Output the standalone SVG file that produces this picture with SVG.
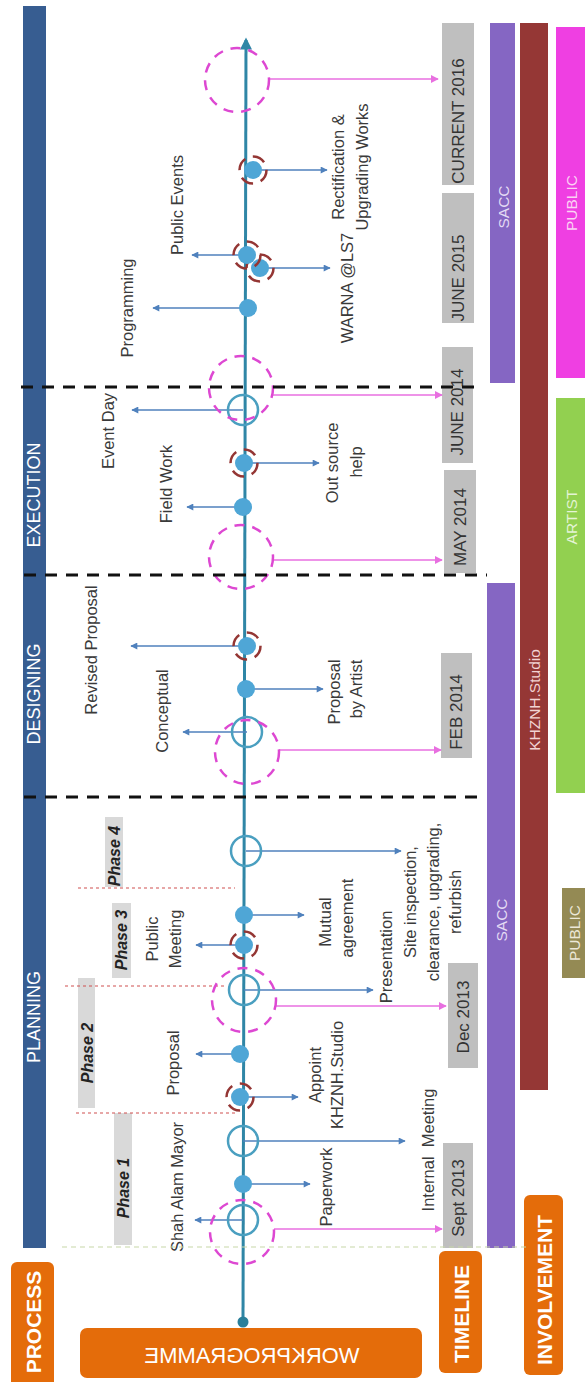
<svg xmlns="http://www.w3.org/2000/svg" width="585" height="1382" viewBox="0 0 585 1382">
<defs>
<style>
.lbl{font-family:"Liberation Sans",Arial,sans-serif;font-size:16.5px;fill:#3a3a3a;text-anchor:middle;dominant-baseline:central}
.date{font-family:"Liberation Sans",Arial,sans-serif;font-size:17px;fill:#333;text-anchor:middle;dominant-baseline:central}
.hdr{font-family:"Liberation Sans",Arial,sans-serif;font-size:21px;font-weight:bold;fill:#fff;text-anchor:middle;dominant-baseline:central}
.proc{font-family:"Liberation Sans",Arial,sans-serif;font-size:18px;fill:#fff;text-anchor:middle;dominant-baseline:central}
.inv{font-family:"Liberation Sans",Arial,sans-serif;font-size:15.5px;text-anchor:middle;dominant-baseline:central}
.phase{font-family:"Liberation Sans",Arial,sans-serif;font-size:16px;font-weight:bold;font-style:italic;fill:#222;text-anchor:middle;dominant-baseline:central}
.dot{fill:#4fa6d6}
.ring{fill:none;stroke:#4a9fc0;stroke-width:2.5}
.bring{fill:none;stroke:#943634;stroke-width:2.5;stroke-dasharray:13 8}
.pc{fill:none;stroke:#dd48d2;stroke-width:2.5;stroke-dasharray:10 8}
.arr{stroke:#4f81bd;stroke-width:1.3;fill:none;marker-end:url(#ab)}
.parr{stroke:#e86fe0;stroke-width:1.6;fill:none;marker-end:url(#ap)}
.datebox{fill:#bfbfbf}
.phbox{fill:#d9d9d9}
.blk{stroke:#111;stroke-width:3;stroke-dasharray:12 9}
.red{stroke:#d05050;stroke-width:1.2;stroke-dasharray:3 3}
</style>
<marker id="ab" viewBox="0 0 10 10" refX="9" refY="5" markerWidth="8" markerHeight="7" markerUnits="userSpaceOnUse" orient="auto"><path d="M0,0 L10,5 L0,10 z" fill="#4f81bd"/></marker>
<marker id="ap" viewBox="0 0 10 10" refX="9" refY="5" markerWidth="8" markerHeight="8" markerUnits="userSpaceOnUse" orient="auto"><path d="M0,0 L10,5 L0,10 z" fill="#e86fe0"/></marker>
<marker id="axh" viewBox="0 0 10 10" refX="8" refY="5" markerWidth="14" markerHeight="12" markerUnits="userSpaceOnUse" orient="auto"><path d="M0,0 L10,5 L0,10 z" fill="#2f86a6"/></marker>
</defs>
<rect width="585" height="1382" fill="#fff"/>

<!-- header boxes -->
<g id="process-header">
<rect x="23" y="6" width="23" height="1242" fill="#375d91"/>
<text class="proc" transform="translate(34,1017) rotate(-90)">PLANNING</text>
<text class="proc" transform="translate(34,694) rotate(-90)">DESIGNING</text>
<text class="proc" transform="translate(34,495) rotate(-90)">EXECUTION</text>
<rect x="11" y="1262" width="43" height="130" rx="6" fill="#e46c0a"/>
<text class="hdr" transform="translate(33,1322) rotate(-90)">PROCESS</text>
</g>
<g id="workprogramme">
<rect x="80" y="1328" width="342" height="50" rx="7" fill="#e46c0a"/>
<text transform="translate(252,1355) scale(-1,1)" font-family="Liberation Sans, Arial, sans-serif" font-size="22" fill="#fff" text-anchor="middle" dominant-baseline="central">WORKPROGRAMME</text>
</g>
<g id="timeline-header">
<rect x="439" y="1251" width="43" height="122" rx="6" fill="#e46c0a"/>
<text class="hdr" transform="translate(461,1314) rotate(-90)">TIMELINE</text>
</g>
<g id="involvement-header">
<rect x="524" y="1195" width="39" height="180" rx="6" fill="#e46c0a"/>
<text class="hdr" transform="translate(544,1290) rotate(-90)">INVOLVEMENT</text>
</g>

<!-- phases -->
<g id="phases">
<rect class="phbox" x="114" y="1113" width="18" height="132"/>
<text class="phase" transform="translate(123,1188) rotate(-90)">Phase 1</text>
<rect class="phbox" x="78" y="978" width="17" height="130"/>
<text class="phase" transform="translate(87,1053) rotate(-90)">Phase 2</text>
<rect class="phbox" x="112" y="903" width="19" height="75"/>
<text class="phase" transform="translate(121,940) rotate(-90)">Phase 3</text>
<rect class="phbox" x="105" y="817" width="18" height="70"/>
<text class="phase" transform="translate(114,856) rotate(-90)">Phase 4</text>
<line class="red" x1="76" y1="1113" x2="235" y2="1113"/>
<line class="red" x1="65" y1="986" x2="224" y2="986"/>
<line class="red" x1="78" y1="888" x2="235" y2="888"/>
</g>

<!-- date boxes -->
<g id="dates">
<rect class="datebox" x="443" y="1143" width="30" height="105"/>
<text class="date" transform="translate(458,1198) rotate(-90)">Sept 2013</text>
<rect class="datebox" x="448" y="963" width="30" height="105"/>
<text class="date" transform="translate(463,1017) rotate(-90)">Dec 2013</text>
<rect class="datebox" x="441" y="653" width="31" height="105"/>
<text class="date" transform="translate(456,712) rotate(-90)">FEB 2014</text>
<rect class="datebox" x="444" y="470" width="32" height="103"/>
<text class="date" transform="translate(460,527) rotate(-90)">MAY 2014</text>
<rect class="datebox" x="442" y="347" width="31" height="116"/>
<text class="date" transform="translate(457,412) rotate(-90)">JUNE 2014</text>
<rect class="datebox" x="442" y="193" width="32" height="130"/>
<text class="date" transform="translate(458,278) rotate(-90)">JUNE 2015</text>
<rect class="datebox" x="442" y="23" width="32" height="162"/>
<text class="date" transform="translate(458,121) rotate(-90)">CURRENT 2016</text>
</g>

<!-- involvement bars -->
<g id="involvement">
<rect x="487" y="583" width="28" height="665" fill="#8566c3"/>
<text class="inv" fill="#e4dcf4" transform="translate(501,920) rotate(-90)">SACC</text>
<rect x="490" y="23" width="25" height="360" fill="#8566c3"/>
<text class="inv" fill="#e4dcf4" transform="translate(503,207) rotate(-90)">SACC</text>
<rect x="520" y="23" width="28" height="1067" fill="#953735"/>
<text class="inv" fill="#f2d4d4" transform="translate(534,700) rotate(-90)">KHZNH.Studio</text>
<rect x="556" y="27" width="29" height="351" fill="#ef3fe2"/>
<text class="inv" fill="#fbd2f4" transform="translate(571,203) rotate(-90)">PUBLIC</text>
<rect x="556" y="398" width="29" height="395" fill="#92d050"/>
<text class="inv" fill="#e4f4d4" transform="translate(571,517) rotate(-90)">ARTIST</text>
<rect x="562" y="888" width="23" height="90" fill="#948a54"/>
<text class="inv" fill="#ece8d8" transform="translate(574,933) rotate(-90)">PUBLIC</text>
</g>

<!-- axis -->
<g id="axis">
<line x1="243" y1="1322" x2="246" y2="40" stroke="#2f86a6" stroke-width="3" marker-end="url(#axh)"/>
<circle cx="243" cy="1322" r="5.5" fill="#2a7f9a"/>
</g>

<!-- connectors -->
<g id="connectors">
<line class="arr" x1="243" y1="1220" x2="195" y2="1220"/>
<line class="arr" x1="243" y1="1184" x2="310" y2="1184"/>
<line class="arr" x1="243" y1="1141" x2="405" y2="1141"/>
<line class="arr" x1="240" y1="1097" x2="298" y2="1097"/>
<line class="arr" x1="240" y1="1054" x2="196" y2="1054"/>
<line class="arr" x1="244" y1="990" x2="373" y2="990"/>
<line class="arr" x1="244" y1="945" x2="196" y2="945"/>
<line class="arr" x1="244" y1="915" x2="304" y2="915"/>
<line class="arr" x1="246" y1="851" x2="401" y2="851"/>
<line class="arr" x1="247" y1="732" x2="183" y2="732"/>
<line class="arr" x1="246" y1="689" x2="323" y2="689"/>
<line class="arr" x1="247" y1="646" x2="131" y2="646"/>
<line class="arr" x1="243" y1="507" x2="187" y2="507"/>
<line class="arr" x1="244" y1="463" x2="319" y2="463"/>
<line class="arr" x1="243" y1="410" x2="132" y2="410"/>
<line class="arr" x1="248" y1="308" x2="153" y2="308"/>
<line class="arr" x1="260" y1="268" x2="330" y2="268"/>
<line class="arr" x1="247" y1="255" x2="192" y2="255"/>
<line class="arr" x1="253" y1="170" x2="327" y2="170"/>
<line class="parr" x1="274" y1="1229" x2="442" y2="1229"/>
<line class="parr" x1="276" y1="1006" x2="446" y2="1006"/>
<line class="parr" x1="279" y1="750" x2="441" y2="750"/>
<line class="parr" x1="273" y1="560" x2="442" y2="560"/>
<line class="parr" x1="273" y1="395" x2="442" y2="395"/>
<line class="parr" x1="269" y1="79" x2="438" y2="79"/>
</g>

<!-- events -->
<g id="ev-sept2013">
<circle class="ring" cx="243" cy="1220" r="15"/>
<circle class="pc" cx="242" cy="1232" r="32"/>
<text class="lbl" transform="translate(177,1187) rotate(-90)">Shah Alam Mayor</text>
</g>
<g id="ev-paperwork">
<circle class="dot" cx="243" cy="1184" r="9"/>
<text class="lbl" transform="translate(326,1187) rotate(-90)">Paperwork</text>
</g>
<g id="ev-internal-meeting">
<circle class="ring" cx="243" cy="1141" r="15"/>
<text class="lbl" transform="translate(428,1150) rotate(-90)" xml:space="preserve">Internal  Meeting</text>
</g>
<g id="ev-appoint">
<circle class="dot" cx="240" cy="1097" r="9"/>
<circle class="bring" cx="240" cy="1097" r="13.5"/>
<text class="lbl" transform="translate(315,1075) rotate(-90)">Appoint</text>
<text class="lbl" transform="translate(337,1075) rotate(-90)">KHZNH.Studio</text>
</g>
<g id="ev-proposal">
<circle class="dot" cx="240" cy="1054" r="9"/>
<text class="lbl" transform="translate(173,1063) rotate(-90)">Proposal</text>
</g>
<g id="ev-dec2013">
<circle class="ring" cx="244" cy="990" r="15"/>
<circle class="pc" cx="244" cy="1000" r="32"/>
<text class="lbl" transform="translate(386,957) rotate(-90)">Presentation</text>
</g>
<g id="ev-public-meeting">
<circle class="dot" cx="244" cy="945" r="9"/>
<circle class="bring" cx="244" cy="945" r="13.5"/>
<text class="lbl" transform="translate(152,939) rotate(-90)">Public</text>
<text class="lbl" transform="translate(175,939) rotate(-90)">Meeting</text>
</g>
<g id="ev-mutual">
<circle class="dot" cx="244" cy="915" r="9"/>
<text class="lbl" transform="translate(325,922) rotate(-90)">Mutual</text>
<text class="lbl" transform="translate(347,918) rotate(-90)">agreement</text>
</g>
<g id="ev-site">
<circle class="ring" cx="246" cy="851" r="15"/>
<text class="lbl" transform="translate(410,902) rotate(-90)">Site inspection,</text>
<text class="lbl" transform="translate(433,902) rotate(-90)">clearance, upgrading,</text>
<text class="lbl" transform="translate(455,902) rotate(-90)">refurbish</text>
</g>
<g id="ev-feb2014">
<circle class="ring" cx="247" cy="732" r="15"/>
<circle class="pc" cx="247" cy="752" r="32"/>
<text class="lbl" transform="translate(162,711) rotate(-90)">Conceptual</text>
</g>
<g id="ev-proposal-artist">
<circle class="dot" cx="246" cy="689" r="9"/>
<text class="lbl" transform="translate(334,692) rotate(-90)">Proposal</text>
<text class="lbl" transform="translate(356,689) rotate(-90)">by Artist</text>
</g>
<g id="ev-revised">
<circle class="dot" cx="247" cy="646" r="9"/>
<circle class="bring" cx="247" cy="646" r="13.5"/>
<text class="lbl" transform="translate(91,650) rotate(-90)">Revised Proposal</text>
</g>
<g id="ev-may2014">
<circle class="pc" cx="241" cy="557" r="32"/>
</g>
<g id="ev-fieldwork">
<circle class="dot" cx="243" cy="507" r="9"/>
<text class="lbl" transform="translate(166,484) rotate(-90)">Field Work</text>
</g>
<g id="ev-outsource">
<circle class="dot" cx="244" cy="463" r="9"/>
<circle class="bring" cx="244" cy="463" r="13.5"/>
<text class="lbl" transform="translate(332,463) rotate(-90)">Out source</text>
<text class="lbl" transform="translate(356,462) rotate(-90)">help</text>
</g>
<g id="ev-june2014">
<circle class="ring" cx="243" cy="410" r="15"/>
<circle class="pc" cx="241" cy="388" r="32"/>
<text class="lbl" transform="translate(108,431) rotate(-90)">Event Day</text>
</g>
<g id="ev-programming">
<circle class="dot" cx="248" cy="308" r="9"/>
<text class="lbl" transform="translate(127,308) rotate(-90)">Programming</text>
</g>
<g id="ev-warna">
<circle class="dot" cx="260" cy="268" r="9"/>
<circle class="bring" cx="260" cy="268" r="13.5"/>
<text class="lbl" transform="translate(347,288) rotate(-90)">WARNA @LS7</text>
</g>
<g id="ev-public-events">
<circle class="dot" cx="247" cy="255" r="9"/>
<circle class="bring" cx="247" cy="255" r="13.5"/>
<text class="lbl" transform="translate(177,205) rotate(-90)">Public Events</text>
</g>
<g id="ev-rectification">
<circle class="dot" cx="253" cy="170" r="9"/>
<circle class="bring" cx="253" cy="170" r="13.5"/>
<text class="lbl" transform="translate(338,167) rotate(-90)">Rectification &amp;</text>
<text class="lbl" transform="translate(362,167) rotate(-90)">Upgrading Works</text>
</g>
<g id="ev-current2016">
<circle class="pc" cx="237" cy="80" r="32"/>
</g>

<!-- divider lines -->
<g id="dividers">
<line x1="62" y1="1247" x2="526" y2="1247" stroke="#c8d8a8" stroke-width="1.2" stroke-dasharray="5 4"/>
<line class="blk" x1="24" y1="797" x2="481" y2="797"/>
<line class="blk" x1="24" y1="575" x2="487" y2="575"/>
<line class="blk" x1="21" y1="387" x2="478" y2="387"/>
</g>
</svg>
